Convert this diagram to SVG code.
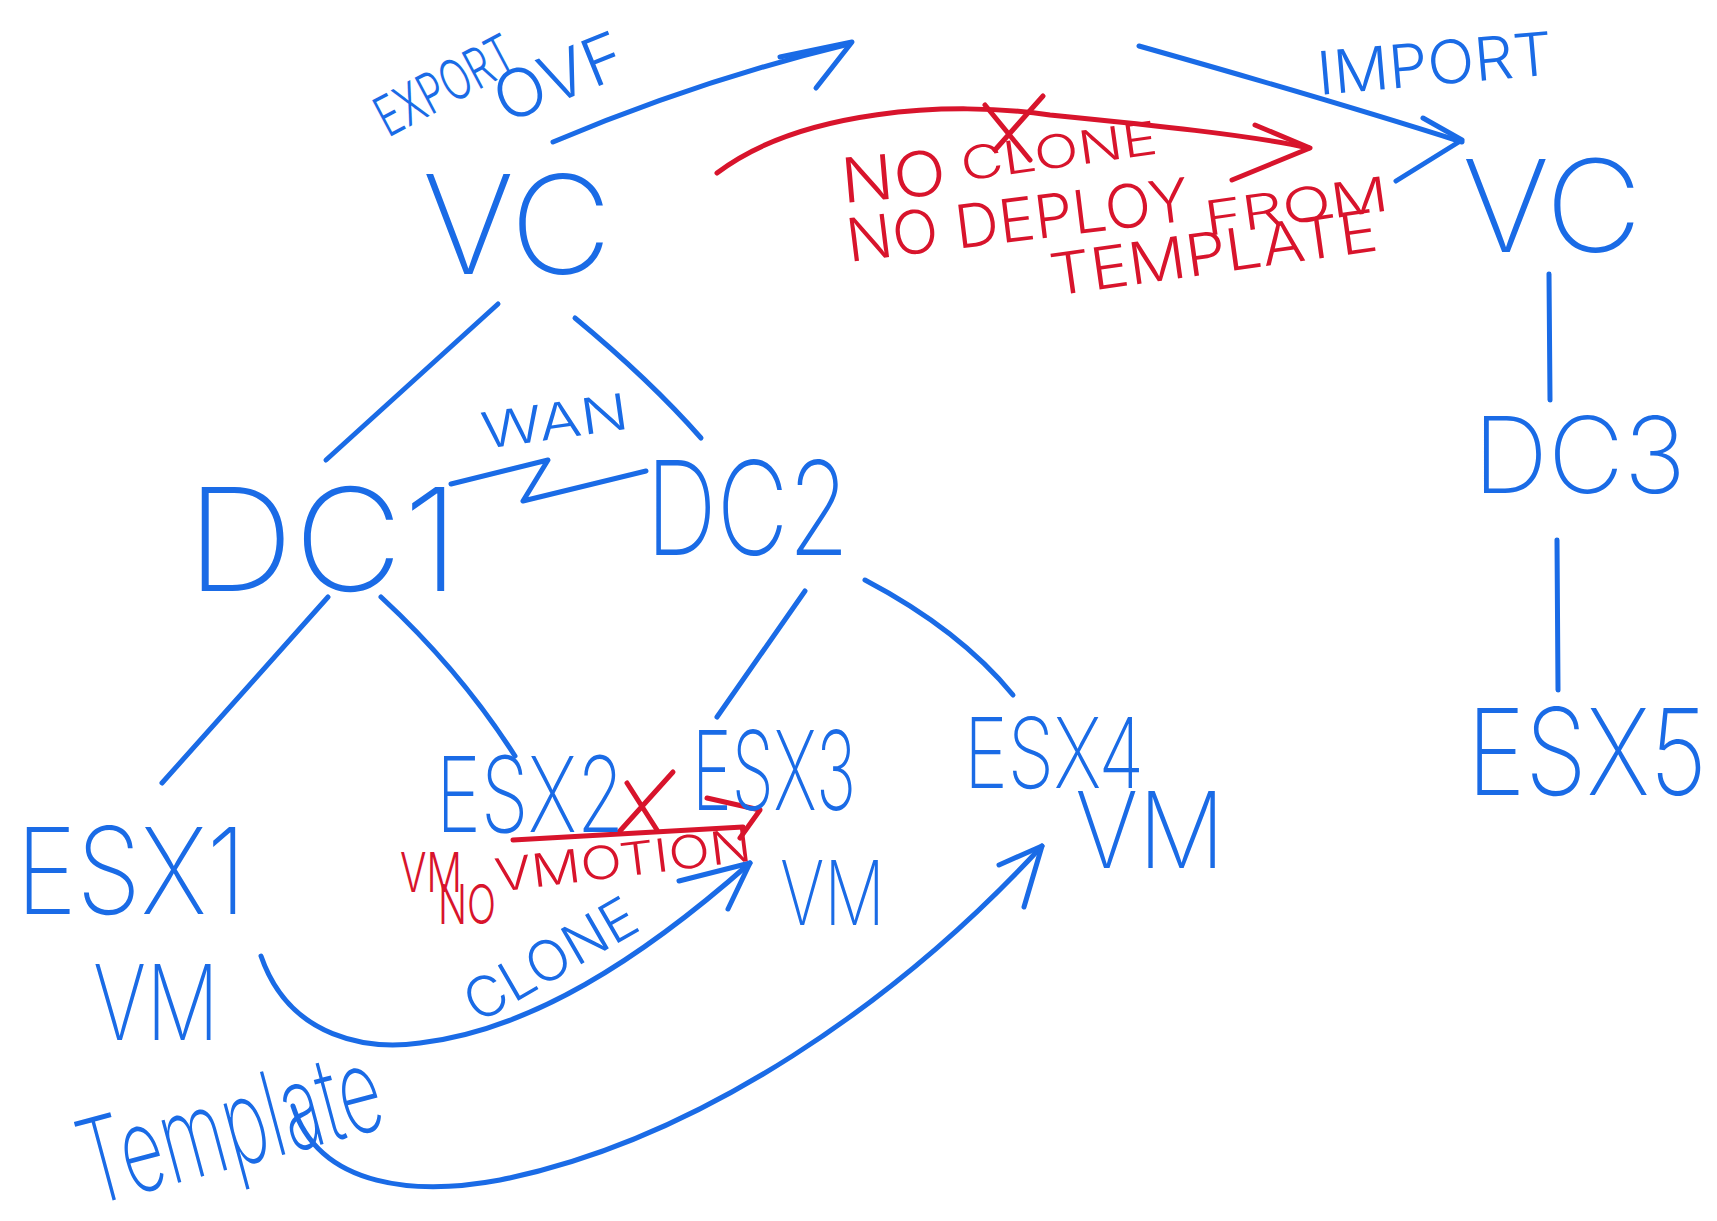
<svg xmlns="http://www.w3.org/2000/svg" width="1717" height="1221" viewBox="0 0 1717 1221">
<style>
.b{fill:#1a6be6;font-family:Inter,"Noto Sans","DejaVu Sans",sans-serif;font-weight:200}
.bs{fill:#1a6be6;font-family:Inter,"Noto Sans","DejaVu Sans",sans-serif;font-weight:300}
.r{fill:#d8142c;font-family:Inter,"Noto Sans","DejaVu Sans",sans-serif;font-weight:300}
.lb{fill:none;stroke:#1a6be6;stroke-width:5;stroke-linecap:round;stroke-linejoin:round}
.lr{fill:none;stroke:#d8142c;stroke-width:5;stroke-linecap:round;stroke-linejoin:round}
</style>
<rect width="1717" height="1221" fill="#ffffff"/>
<g id="connectors">
<path class="lb" d="M498,304 L326,460"/>
<path class="lb" d="M575,318 Q650,380 701,438"/>
<path class="lb" d="M328,597 L162,783"/>
<path class="lb" d="M381,597 Q460,670 515,756"/>
<path class="lb" d="M805,591 L717,717"/>
<path class="lb" d="M865,580 Q960,630 1013,695"/>
<path class="lb" d="M451,484 L548,460 L523,501 L646,471"/>
<path class="lb" d="M1549,274 L1550,400"/>
<path class="lb" d="M1557,540 L1558,690"/>
<path class="lb" d="M553,142 Q700,80 849,44"/>
<path class="lb" d="M780,57 L852,42 L816,88"/>
<path class="lb" d="M1139,46 Q1330,100 1462,142"/>
<path class="lb" d="M1423,118 L1462,140 L1396,181"/>
<path class="lb" d="M261,956 C290,1040 370,1050 420,1043 C530,1030 640,960 750,863"/>
<path class="lb" d="M679,881 L750,863 L728,909"/>
<path class="lb" d="M293,1106 C320,1190 420,1195 500,1180 C700,1140 900,1000 1042,846"/>
<path class="lb" d="M999,865 L1042,846 L1024,907"/>
<path class="lr" d="M717,173 C800,110 950,100 1050,115 C1150,125 1250,135 1309,148"/>
<path class="lr" d="M1255,125 L1310,148 L1232,180"/>
<path class="lr" d="M985,105 L1030,160 M1043,96 L995,150"/>
<path class="lr" d="M513,840 L743,827"/>
<path class="lr" d="M707,798 L760,810 L740,838"/>
<path class="lr" d="M619,832 L673,772 M627,783 L657,830"/>
</g>
<g id="vc1"><text class="b" x="422" y="274" font-size="137" textLength="190" lengthAdjust="spacingAndGlyphs">VC</text></g>
<g id="vc2"><text class="b" x="1462" y="252" font-size="128" textLength="180" lengthAdjust="spacingAndGlyphs">VC</text></g>
<g id="dc1"><text class="b" x="186" y="591" font-size="143" textLength="274" lengthAdjust="spacingAndGlyphs">DC1</text></g>
<g id="dc2"><text class="b" x="646" y="555" font-size="130" textLength="203" lengthAdjust="spacingAndGlyphs">DC2</text></g>
<g id="dc3"><text class="b" x="1473" y="493" font-size="106" textLength="213" lengthAdjust="spacingAndGlyphs">DC3</text></g>
<g id="esx1"><text class="b" x="16" y="914" font-size="120" textLength="230" lengthAdjust="spacingAndGlyphs">ESX1</text></g>
<g id="esx2"><text class="b" x="436" y="832" font-size="105" textLength="188" lengthAdjust="spacingAndGlyphs">ESX2</text></g>
<g id="esx3"><text class="b" x="692" y="810" font-size="110" textLength="164" lengthAdjust="spacingAndGlyphs">ESX3</text></g>
<g id="esx4"><text class="b" x="964" y="788" font-size="98" textLength="180" lengthAdjust="spacingAndGlyphs">ESX4</text></g>
<g id="esx5"><text class="b" x="1467" y="795" font-size="120" textLength="240" lengthAdjust="spacingAndGlyphs">ESX5</text></g>
<g id="vm1"><text class="b" x="93" y="1040" font-size="104" textLength="126" lengthAdjust="spacingAndGlyphs">VM</text></g>
<g id="vm3"><text class="b" x="780" y="925" font-size="90" textLength="105" lengthAdjust="spacingAndGlyphs">VM</text></g>
<g id="vm4"><text class="b" x="1075" y="868" font-size="106" textLength="150" lengthAdjust="spacingAndGlyphs">VM</text></g>
<g id="template"><text class="b" x="92" y="1206" font-size="118" textLength="308" lengthAdjust="spacingAndGlyphs" transform="rotate(-15 92 1206)">Template</text></g>
<g id="labels">
<text class="bs" x="478" y="1024" font-size="56" textLength="190" lengthAdjust="spacingAndGlyphs" transform="rotate(-30 478 1024)">CLONE</text>
<text class="bs" x="484" y="449" font-size="50" textLength="148" lengthAdjust="spacingAndGlyphs" transform="rotate(-8 484 449)">WAN</text>
<text class="bs" x="388" y="138" font-size="56" textLength="150" lengthAdjust="spacingAndGlyphs" transform="rotate(-28 388 138)">EXPORT</text>
<text class="bs" x="505" y="124" font-size="66" textLength="135" lengthAdjust="spacingAndGlyphs" transform="rotate(-22 505 124)">OVF</text>
<text class="bs" x="1319" y="95" font-size="60" textLength="236" lengthAdjust="spacingAndGlyphs" transform="rotate(-5 1319 95)">IMPORT</text>
<text class="r" x="843" y="203" font-size="62" textLength="105" lengthAdjust="spacingAndGlyphs" transform="rotate(-5 843 203)">NO</text>
<text class="r" x="963" y="181" font-size="46" textLength="198" lengthAdjust="spacingAndGlyphs" transform="rotate(-8 963 181)">CLONE</text>
<text class="r" x="849" y="262" font-size="60" textLength="345" lengthAdjust="spacingAndGlyphs" transform="rotate(-7 849 262)">NO DEPLOY</text>
<text class="r" x="1207" y="236" font-size="48" textLength="185" lengthAdjust="spacingAndGlyphs" transform="rotate(-8 1207 236)">FROM</text>
<text class="r" x="1053" y="296" font-size="58" textLength="330" lengthAdjust="spacingAndGlyphs" transform="rotate(-8 1053 296)">TEMPLATE</text>
<text class="r" x="400" y="892" font-size="55" textLength="62" lengthAdjust="spacingAndGlyphs">VM</text>
<text class="r" x="438" y="924" font-size="55" textLength="58" lengthAdjust="spacingAndGlyphs">NO</text>
<text class="r" x="497" y="892" font-size="46" textLength="258" lengthAdjust="spacingAndGlyphs" transform="rotate(-7 497 892)">VMOTION</text>
</g>
</svg>
